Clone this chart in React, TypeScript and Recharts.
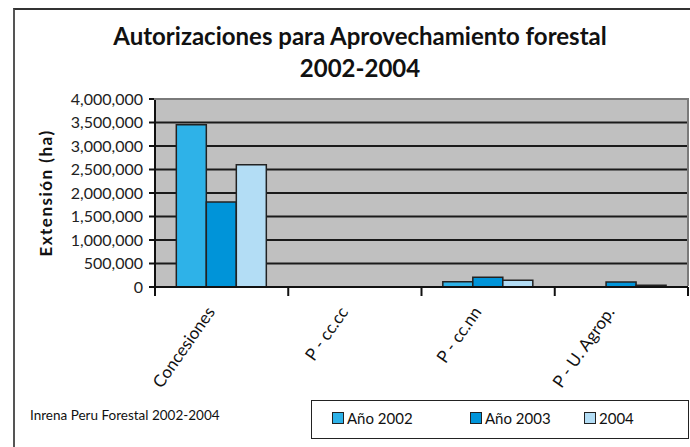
import React from "react";
import { BarChart, Bar, XAxis, YAxis, CartesianGrid } from "recharts";

const categories = ["Concesiones", "P - cc.cc", "P - cc.nn", "P - U. Agrop."];
const ano2002 = [3450000, 0, 110000, 0];
const ano2003 = [1810000, 0, 210000, 105000];
const ano2004 = [2600000, 0, 145000, 35000];
const yTicks = [0, 500000, 1000000, 1500000, 2000000, 2500000, 3000000, 3500000, 4000000];
const seriesNames = ["Año 2002", "Año 2003", "2004"];
const seriesColors = ["#2EB2E8", "#0094D9", "#B3DDF5"];

const data = categories.map((c, i) => ({
  name: c,
  a2002: ano2002[i],
  a2003: ano2003[i],
  a2004: ano2004[i],
}));

const FONT = "Lato, 'Open Sans', sans-serif";
const W = 690;
const H = 447;
const M = { top: 99, right: 2, left: 0, bottom: 0 };
const YW = 155;
const XH = 160;
const plotW = W - YW - M.right;
const bandW = plotW / categories.length;

const fmt = (v: number) => v.toLocaleString("en-US");

const XTick = (props: any) => {
  const { x, y, payload, index } = props;
  const last = index === categories.length - 1;
  const ax = x - 6;
  const ay = y + 17;
  return (
    <g>
      <line x1={x - bandW / 2} y1={y - 8} x2={x - bandW / 2} y2={y + 1} stroke="#111" strokeWidth={2} />
      {last && (
        <line x1={x + bandW / 2} y1={y - 8} x2={x + bandW / 2} y2={y + 1} stroke="#111" strokeWidth={2} />
      )}
      <text
        x={ax}
        y={ay}
        transform={`rotate(-55, ${ax}, ${ay})`}
        textAnchor="end"
        fontFamily={FONT}
        fontSize={17}
        fill="#111"
      >
        {payload.value}
      </text>
    </g>
  );
};

export default function App() {
  return (
    <div style={{ position: "absolute", left: 0, top: 0, width: W, height: H, background: "#fff", overflow: "hidden" }}>
      <div
        style={{
          position: "absolute",
          left: 13,
          top: 8,
          width: W,
          height: H,
          borderLeft: "2px solid #555",
          borderTop: "2px solid #333",
        }}
      />
      <div
        style={{
          position: "absolute",
          left: 0,
          width: 720,
          top: 20,
          textAlign: "center",
          fontFamily: FONT,
          fontWeight: 700,
          fontSize: 24,
          lineHeight: "32px",
          color: "#111",
        }}
      >
        Autorizaciones para Aprovechamiento forestal
        <br />
        2002-2004
      </div>
      <div style={{ position: "absolute", left: 0, top: 0 }}>
        <BarChart width={W} height={H} data={data} margin={M} barCategoryGap="16%" barGap={0}>
          <CartesianGrid fill="#C0C0C0" vertical={false} stroke="#1a1a1a" strokeWidth={2} strokeOpacity={1} />
          <XAxis
            dataKey="name"
            height={XH}
            interval={0}
            tickLine={false}
            axisLine={{ stroke: "#111", strokeWidth: 2 }}
            tick={<XTick />}
          />
          <YAxis
            width={YW}
            domain={[0, 4000000]}
            ticks={yTicks}
            tickFormatter={fmt}
            interval={0}
            axisLine={{ stroke: "#111", strokeWidth: 2 }}
            tickLine={{ stroke: "#111", strokeWidth: 2 }}
            tickSize={6}
            tickMargin={6}
            tick={{ fontFamily: FONT, fontSize: 16, fill: "#222" }}
            label={{
              value: "Extensión (ha)",
              angle: -90,
              position: "insideLeft",
              offset: 46,
              style: { fontFamily: FONT, fontWeight: 700, fontSize: 17, fill: "#111", letterSpacing: 1.5, textAnchor: "middle" },
            }}
          />
          <Bar dataKey="a2002" name={seriesNames[0]} fill={seriesColors[0]} stroke="#222" strokeWidth={1.5} isAnimationActive={false} />
          <Bar dataKey="a2003" name={seriesNames[1]} fill={seriesColors[1]} stroke="#222" strokeWidth={1.5} isAnimationActive={false} />
          <Bar dataKey="a2004" name={seriesNames[2]} fill={seriesColors[2]} stroke="#222" strokeWidth={1.5} isAnimationActive={false} />
        </BarChart>
      </div>
      <div
        style={{
          position: "absolute",
          left: YW - 1,
          top: M.top - 1,
          width: plotW,
          height: 4,
          borderTop: "2px solid #7a7a7a",
          boxSizing: "border-box",
        }}
      />
      <div
        style={{
          position: "absolute",
          left: W - 3,
          top: M.top - 1,
          width: 2,
          height: 188,
          background: "#7a7a7a",
        }}
      />
      <div
        style={{
          position: "absolute",
          left: 30,
          top: 407,
          fontFamily: FONT,
          fontSize: 13.5,
          color: "#111",
        }}
      >
        Inrena Peru Forestal 2002-2004
      </div>
      <div
        style={{
          position: "absolute",
          left: 311,
          top: 400,
          width: 378,
          height: 39,
          border: "1.5px solid #222",
          boxSizing: "border-box",
        }}
      >
        {seriesNames.map((n, i) => (
          <div
            key={n}
            style={{
              position: "absolute",
              left: [20, 158, 272][i],
              top: 8,
              display: "flex",
              alignItems: "center",
              fontFamily: FONT,
              fontSize: 15,
              color: "#111",
            }}
          >
            <span
              style={{
                display: "inline-block",
                width: 10,
                height: 10,
                background: seriesColors[i],
                border: "1px solid #222",
                marginRight: 3,
              }}
            />
            {n}
          </div>
        ))}
      </div>
    </div>
  );
}
